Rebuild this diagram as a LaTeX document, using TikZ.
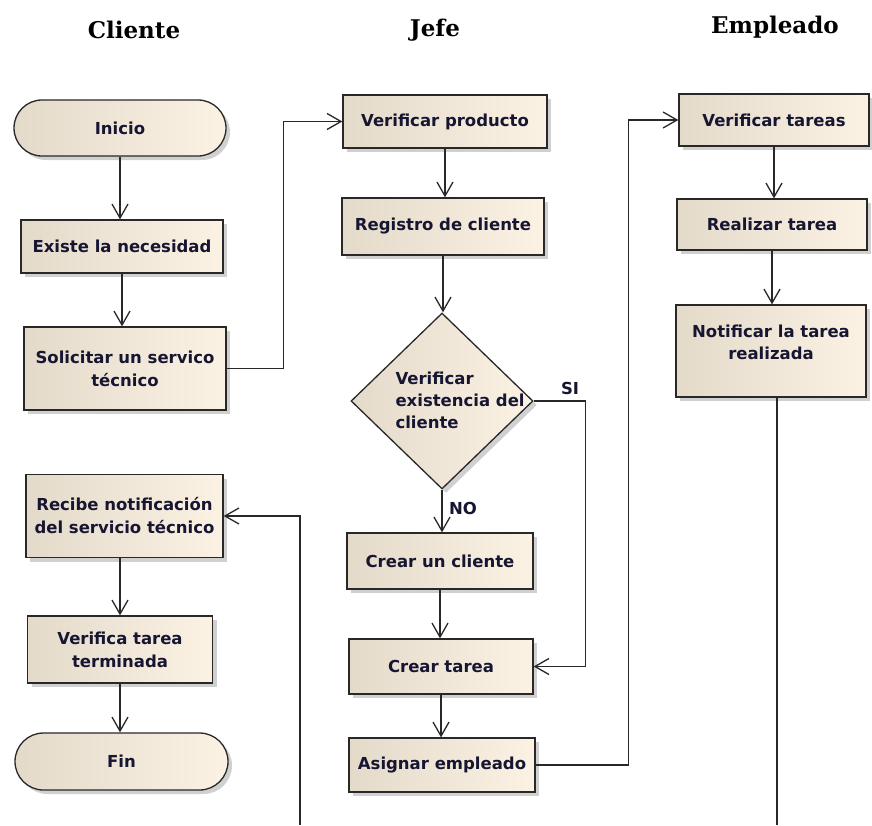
\documentclass[tikz,border=0pt]{standalone}
\usepackage{fontspec}
\setmainfont{DejaVu Sans}
\newfontfamily\headfont{DejaVu Serif}
\usetikzlibrary{arrows.meta,shapes.misc,shapes.geometric,shadows}

\definecolor{boxleft}{RGB}{228,218,202}
\definecolor{boxright}{RGB}{252,242,228}
\definecolor{inkline}{RGB}{40,40,40}
\definecolor{inktext}{RGB}{22,22,50}

\tikzset{
  shade/.style={left color=boxleft,right color=boxright,
    drop shadow={shadow xshift=4pt,shadow yshift=-4pt,fill=black!30,opacity=0.6}},
  actbox/.style={shade,draw=inkline,line width=1.3pt,rectangle,inner sep=2pt,
    font=\bfseries\fontsize{16.5}{23}\selectfont,text=inktext,align=center},
  pill/.style={actbox,rounded rectangle},
  decision/.style={shade,draw=inkline,line width=1.3pt,diamond,inner sep=0pt},
  txt/.style={font=\bfseries\fontsize{16.5}{22}\selectfont,text=inktext},
  heading/.style={font=\headfont\bfseries\fontsize{23}{26}\selectfont,text=black},
  flow/.style={draw=inkline,line width=1.4pt,
    -{Straight Barb[length=14pt,width=16pt,line width=1.3pt]}},
  wire/.style={draw=inkline,line width=1.4pt}
}

\begin{document}
\begin{tikzpicture}[x=1pt,y=-1pt]
\useasboundingbox (0,0) rectangle (872,825);
\fill[white] (0,0) rectangle (872,825);

% lane headings
\node[heading] (hcli) at (134,30) {Cliente};
\node[heading] (hjef) at (435,30) {Jefe};
\node[heading] (hemp) at (775,27) {Empleado};

% Cliente lane
\node[pill,minimum width=216pt,minimum height=56pt] (ini) at (120,128) {Inicio};
\node[actbox,minimum width=202pt,minimum height=53pt] (exi) at (122,246.5) {Existe la necesidad};
\node[actbox,minimum width=202pt,minimum height=83pt] (sol) at (125,368.5) {Solicitar un servico\\t\'ecnico};
\node[actbox,minimum width=197pt,minimum height=83pt] (rec) at (124.5,516) {Recibe notificaci\'on\\del servicio t\'ecnico};
\node[actbox,minimum width=185pt,minimum height=67pt] (vtt) at (120,649.5) {Verifica tarea\\terminada};
\node[pill,minimum width=217pt,minimum height=57pt] (fin) at (121.5,761.5) {Fin};

% Jefe lane
\node[actbox,minimum width=204pt,minimum height=53pt] (vp) at (445,121.5) {Verificar producto};
\node[actbox,minimum width=202pt,minimum height=57pt] (reg) at (443,226.5) {Registro de cliente};
\node[decision,minimum width=182pt,minimum height=176pt] (dec) at (442,401) {};
\node[txt,align=left,anchor=west] (dect) at (392,400) {Verificar\\existencia del\\cliente};
\node[actbox,minimum width=186pt,minimum height=56pt] (cc) at (440,561) {Crear un cliente};
\node[actbox,minimum width=184pt,minimum height=55pt] (ct) at (441,666.5) {Crear tarea};
\node[actbox,minimum width=186pt,minimum height=54pt] (as) at (442,765) {Asignar empleado};

% Empleado lane
\node[actbox,minimum width=190pt,minimum height=52pt] (vt) at (774,120) {Verificar tareas};
\node[actbox,minimum width=190pt,minimum height=51pt] (rt) at (772,224.5) {Realizar tarea};
\node[actbox,minimum width=190pt,minimum height=92pt] (nt) at (771,351) {};
\node[txt,align=center] (ntt) at (771,342) {Notificar la tarea\\realizada};

% loose ends at the lower edge
\coordinate (ntb) at (777,825);
\coordinate (recb) at (300,825);

% connectors
\draw[flow] (ini.south) -- (ini.south |- exi.north);
\draw[flow] (exi.south) -- (exi.south |- sol.north);
\draw[flow] (sol.east) -- ++(57,0) |- (vp.west);
\draw[flow] (vp.south) -- (vp.south |- reg.north);
\draw[flow] (reg.south) -- (reg.south |- dec.north);
\draw[flow] (dec.south) -- (dec.south |- cc.north)
  node[txt,pos=0.45,anchor=west,xshift=3pt] (lno) {NO};
\draw[flow] (dec.east) -- ++(52,0) node[txt,pos=0.7,anchor=south,yshift=2pt] (lsi) {SI} |- (ct.east);
\draw[flow] (cc.south) -- (cc.south |- ct.north);
\draw[flow] (ct.south) -- (ct.south |- as.north);
\draw[flow] (as.east) -- ++(93,0) |- (vt.west);
\draw[flow] (vt.south) -- (vt.south |- rt.north);
\draw[flow] (rt.south) -- (rt.south |- nt.north);
\draw[wire] (nt.south -| ntb) -- (ntb);
\draw[flow] (recb) |- (rec.east);
\draw[flow] (rec.south -| vtt.north) -- (vtt.north);
\draw[flow] (vtt.south) -- (vtt.south |- fin.north);
\end{tikzpicture}
\end{document}
